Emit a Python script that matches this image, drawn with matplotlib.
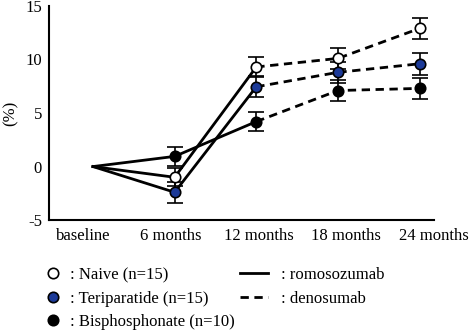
import numpy as np
import matplotlib.pyplot as plt
from matplotlib.lines import Line2D

plt.rcParams['font.family'] = ['Liberation Serif', 'DejaVu Serif']
plt.rcParams['axes.unicode_minus'] = False

# данные
timepoints = ['baseline', '6 months', '12 months', '18 months', '24 months']
naive = [0, -1.0, 9.3, 10.1, 12.9]
naive_err = [0, 0.85, 0.95, 1.0, 1.0]
teri = [0, -2.4, 7.45, 8.8, 9.6]
teri_err = [0, 1.0, 1.0, 1.0, 1.05]
bisph = [0, 0.95, 4.2, 7.1, 7.3]
bisph_err = [0, 0.9, 0.9, 0.95, 0.95]

blue = '#1c3a98'
x = np.arange(len(timepoints))

fig = plt.figure(figsize=(4.7, 3.3), dpi=100)
ax = fig.add_axes([0.104, 0.333, 0.82, 0.649])

groups = [(naive, naive_err, 'white'), (teri, teri_err, blue), (bisph, bisph_err, 'black')]
for vals, err, fc in groups:
    vals = np.array(vals)
    err = np.array(err)
    # romosozumab: baseline -> 12 months
    ax.plot(x[:3], vals[:3], color='black', lw=2, ls='-', zorder=2)
    # denosumab: 12 -> 24 months
    ax.plot(x[2:], vals[2:], color='black', lw=2, ls=(0, (3, 2)), zorder=2)
    ax.errorbar(x[1:], vals[1:], yerr=err[1:], fmt='none', ecolor='black',
                elinewidth=1.2, capsize=5.5, capthick=1.2, zorder=3)
    ax.plot(x[1:], vals[1:], 'o', ms=7.5, mfc=fc, mec='black', mew=1.2, zorder=4)

ax.set_xlim(-0.54, 4.18)
ax.set_ylim(-5, 15)
ax.set_yticks([-5, 0, 5, 10, 15])
# подписи чуть шире точек, как в оригинале
ax.set_xticks(-0.12 + 1.074 * x)
ax.set_xticklabels(timepoints)
ax.tick_params(length=0, labelsize=12, pad=6)
ax.tick_params(axis='y', pad=5)
ax.set_ylabel('(%)', fontsize=12)
ax.yaxis.set_label_coords(-0.078, 0.5)
for s in ['top', 'right']:
    ax.spines[s].set_visible(False)
for s in ['left', 'bottom']:
    ax.spines[s].set_linewidth(1.5)

# легенда
h1 = [Line2D([], [], ls='none', marker='o', ms=7.5, mfc=fc, mec='black', mew=1.2)
      for fc in ['white', blue, 'black']]
l1 = [': Naive (n=15)', ': Teriparatide (n=15)', ': Bisphosphonate (n=10)']
fig.legend(h1, l1, loc='upper left', bbox_to_anchor=(0.092, 0.19),
           frameon=False, fontsize=12, handlelength=1.2, handletextpad=0.4,
           labelspacing=0.45, borderpad=0, borderaxespad=0)
h2 = [Line2D([], [], color='black', lw=2, ls='-'),
      Line2D([], [], color='black', lw=2, ls=(0, (3, 2)))]
l2 = [': romosozumab', ': denosumab']
fig.legend(h2, l2, loc='upper left', bbox_to_anchor=(0.51, 0.19),
           frameon=False, fontsize=12, handlelength=1.7, handletextpad=0.75,
           labelspacing=0.45, borderpad=0, borderaxespad=0)

plt.savefig('out.png', dpi=100)
